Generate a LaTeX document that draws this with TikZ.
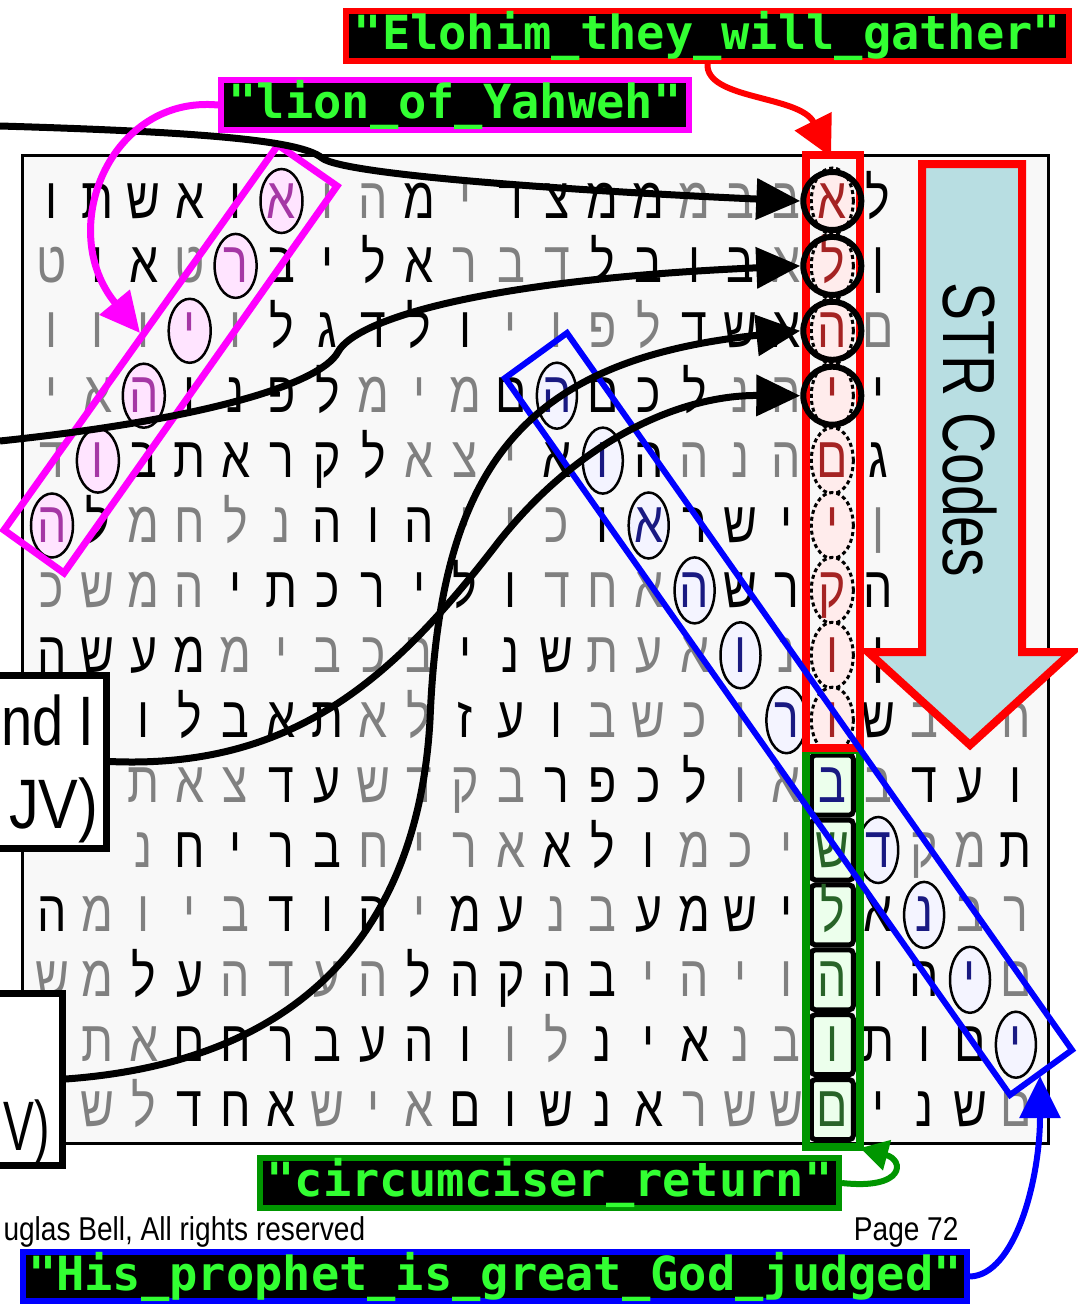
\documentclass[tikz,border=0pt]{standalone}
\usepackage{fontspec}
\setmainfont{Liberation Sans}
\newfontfamily\hebfont[Script=Hebrew]{Liberation Sans}
\newfontfamily\codefont{DejaVu Sans Mono}
\usetikzlibrary{arrows.meta}

\definecolor{gridbg}{RGB}{248,248,248}
\definecolor{tb}{RGB}{0,0,0}
\definecolor{tg}{RGB}{128,128,128}
\definecolor{tm}{RGB}{165,55,165}
\definecolor{tr}{RGB}{165,35,35}
\definecolor{tn}{RGB}{25,25,130}
\definecolor{te}{RGB}{40,100,40}
\definecolor{codegreen}{RGB}{50,255,50}
\definecolor{strblue}{RGB}{184,222,226}
\definecolor{darkgreen}{RGB}{0,150,0}
\definecolor{lionpink}{RGB}{255,0,255}
\definecolor{pinkglow}{RGB}{255,228,255}
\definecolor{redglow}{RGB}{255,236,236}
\definecolor{blueglow}{RGB}{244,244,255}
\definecolor{greenglow}{RGB}{236,255,236}

\tikzset{
  glyph/.style={font=\hebfont\fontsize{58}{58}\selectfont, inner sep=0pt, anchor=base},
  codebox/.style={fill=black, line width=6pt, inner sep=0pt,
    font=\codefont\bfseries\fontsize{47}{47}\selectfont, text=codegreen},
  sidebox/.style={draw, line width=7pt, fill=white, inner sep=0pt},
  blackarrow/.style={line width=7pt, -{Triangle[length=44pt,width=40pt]}}
}

% one row of the letter grid, entries letter/tone
\newcommand\hebrow[2]{%
  \foreach \ch/\tone [count=\col from 0] in {#2} {%
    \if x\tone\else
      \node[glyph, text=t\tone] (let-#1-\col) at ([yshift=-17pt]cell-#1-\col) {\scalebox{0.8}[1]{\ch}};
    \fi
  }%
}

\begin{document}
\begin{tikzpicture}[x=1pt, y=-1pt]
\useasboundingbox (0,0) rectangle (1078,1306);

\draw[line width=3pt, fill=gridbg] (22,155) rectangle (1048,1143);
\foreach \r in {0,...,14} {
  \foreach \c in {0,...,21} {
    \coordinate (cell-\r-\c) at ({52+45.9*\c},{201+64.9*\r});
  }
}

\foreach \r/\c in {0/5,1/4,2/3,3/2,4/1,5/0}
  \draw[fill=pinkglow, line width=2.5pt] (cell-\r-\c) ellipse [x radius=21pt, y radius=32pt];
\foreach \r/\c in {3/11,4/12,5/13,6/14,7/15,8/16,10/18,11/19,12/20,13/21}
  \draw[fill=blueglow, line width=2.5pt] (cell-\r-\c) ellipse [x radius=20pt, y radius=33pt];
\foreach \r in {0,...,8}
  \draw[fill=redglow, line width=3pt, dash pattern=on 4pt off 3pt] (cell-\r-17) ellipse [x radius=21pt, y radius=33pt];
\foreach \r in {9,...,14}
  \draw[fill=greenglow, line width=5pt, rounded corners=4pt] ([xshift=-21pt,yshift=30pt]cell-\r-17) rectangle ([xshift=21pt,yshift=-30pt]cell-\r-17);

\hebrow{0}{ו/b,ת/b,ש/b,א/b,ו/b,א/m,ו/g,ה/g,מ/b,י/g,ד/b,צ/b,מ/b,מ/b,מ/g,ב/g,ב/g,א/r,ל/b,-/x,-/x,-/x}
\hebrow{1}{ט/g,ו/b,א/b,ט/g,ר/m,ב/b,י/b,ל/b,א/b,ר/g,ב/g,ד/g,ל/b,ב/b,ו/b,ב/b,א/g,ל/r,ן/b,-/x,-/x,ן/b}
\hebrow{2}{ו/g,ו/g,ו/g,י/m,ו/g,ל/b,ג/b,ד/b,ל/b,ו/b,י/g,ו/g,פ/g,ל/g,ד/b,ש/b,א/b,ה/r,ם/g,-/x,-/x,ן/b}
\hebrow{3}{י/g,א/g,ה/m,ו/b,נ/b,פ/b,ל/b,מ/g,י/g,מ/g,ם/b,ה/n,ם/b,כ/b,ל/b,נ/g,ה/g,י/r,י/b,-/x,-/x,ו/b}
\hebrow{4}{ד/g,ו/m,ב/b,ת/b,א/b,ר/b,ק/b,ל/b,א/g,צ/g,י/g,א/b,ו/n,ה/b,ה/g,נ/g,ה/g,ם/r,ג/b,-/x,-/x,-/x}
\hebrow{5}{ה/m,ל/b,מ/g,ח/g,ל/g,נ/g,ה/b,ו/b,ה/b,י/g,י/g,כ/g,ו/b,א/n,ר/b,ש/b,י/b,י/r,ן/g,-/x,-/x,-/x}
\hebrow{6}{כ/g,ש/g,מ/g,ה/g,י/b,ת/b,כ/b,ר/b,י/b,ל/b,ו/b,ד/g,ח/g,א/g,ה/n,ש/b,ר/b,ק/r,ה/b,-/x,-/x,-/x}
\hebrow{7}{ה/b,ש/b,ע/b,מ/b,מ/g,י/g,ב/g,כ/g,ב/g,י/b,נ/b,ש/b,ת/g,ע/g,א/g,ו/n,נ/g,ו/r,ן/b,-/x,-/x,-/x}
\hebrow{8}{-/x,-/x,ו/b,ל/b,ב/b,א/b,ת/b,א/g,ל/g,ז/b,ע/b,ו/b,ב/g,ש/g,כ/g,ו/g,ר/n,ו/r,ש/b,ב/g,-/x,ה/g}
\hebrow{9}{-/x,-/x,ת/g,א/g,צ/g,ד/b,ע/b,ש/g,ד/g,ק/g,ב/g,ר/b,פ/b,כ/b,ל/b,ו/g,א/g,ב/n,ב/g,ד/b,ע/b,ו/b}
\hebrow{10}{-/x,-/x,נ/g,ח/b,י/b,ר/b,ב/b,ח/g,י/g,ר/g,א/g,א/b,ל/b,ו/b,מ/g,כ/g,י/g,ש/e,ד/n,ק/g,מ/g,ת/b}
\hebrow{11}{ה/b,מ/g,ו/g,י/g,ב/g,ד/b,ו/b,ה/b,י/g,מ/b,ע/b,נ/g,ב/g,ע/b,מ/b,ש/b,י/b,ל/e,א/b,נ/n,ב/g,ר/g}
\hebrow{12}{ש/g,מ/g,ל/b,ע/b,ה/g,ד/g,ע/g,ה/g,ל/b,ה/b,ק/b,ה/b,ב/b,י/g,ה/g,י/g,ו/g,ה/e,ו/b,ה/b,י/n,ם/g}
\hebrow{13}{-/x,ת/g,א/g,ם/b,ח/b,ר/b,ב/b,ע/b,ה/b,ו/b,ו/g,ל/g,נ/b,י/b,א/b,נ/g,ב/g,ו/e,ת/b,ו/b,ם/b,י/n}
\hebrow{14}{-/x,ש/g,ל/g,ד/b,ח/b,א/b,ש/g,י/g,א/g,ם/b,ו/b,ש/b,נ/b,א/b,ר/g,ש/g,ש/g,ם/e,י/b,נ/b,ש/b,ם/g}

\draw[darkgreen, line width=8pt] (805.5,750) rectangle (859.5,1147);
\draw[red, line width=8pt] (805.5,155) rectangle (859.5,748);
\foreach \r in {0,1,2,3}
  \node[draw, circle, line width=6pt, minimum size=58pt, inner sep=0pt] (ring\r) at (cell-\r-17) {};

\draw[lionpink, line width=7pt, line join=miter] (278,145) -- (337,186) -- (64,573) -- (4,530) -- cycle;
\draw[blue, line width=6pt, line join=miter] (505,378) -- (567,333) -- (1072,1050) -- (1010,1095) -- cycle;

\draw[red, line width=8pt, fill=strblue, line join=miter] (922,164) -- (1022,164) -- (1022,652) -- (1072,652)
  -- (970,745) -- (868,652) -- (922,652) -- cycle;
\node[rotate=-90] (strtext) at (970,430) {\scalebox{0.77}[1]{\fontsize{74}{74}\selectfont STR Codes}};

\node[sidebox, minimum width=112pt, minimum height=173pt] (kjv) at (50,761.5) {};
\node[anchor=base east] (kjvtop) at (98,745) {\scalebox{0.8}[1]{\fontsize{70}{70}\selectfont nd I}};
\node[anchor=base east] (kjvbot) at (102,828) {\scalebox{0.85}[1]{\fontsize{70}{70}\selectfont JV)}};
\node[sidebox, minimum width=70pt, minimum height=172pt] (nkjv) at (27,1079) {};
\node[anchor=base east] (nkjvbot) at (53,1150) {\scalebox{0.66}[1]{\fontsize{70}{70}\selectfont V)}};

\node[codebox, draw=red, minimum width=723pt, minimum height=45pt] (elohim) at (707.5,36) {"Elohim\_they\_will\_gather"};
\node[codebox, draw=lionpink, minimum width=468pt, minimum height=43pt] (lion) at (455,105) {"lion\_of\_Yahweh"};
\node[codebox, draw=darkgreen, minimum width=579pt, minimum height=44pt] (circ) at (549.5,1183) {"circumciser\_return"};
\node[codebox, draw=blue, minimum width=944pt, minimum height=44pt] (prophet) at (495,1276.5) {"His\_prophet\_is\_great\_God\_judged"};

\coordinate (in1) at (0,126);
\coordinate (in2) at (0,441);
\coordinate (liontip) at (140,333);
\coordinate (redtop) at (831,157);
\coordinate (greentip) at (860,1148);
\coordinate (bluetip) at (1040,1076);

\draw[blackarrow] (in1) .. controls (200,132) and (300,140) .. (322,158) .. controls (345,176) and (600,192) .. (ring0.west);
\draw[blackarrow] (in2) .. controls (200,420) and (320,385) .. (338,352) .. controls (355,320) and (480,280) .. (ring1.west);
\draw[blackarrow] (nkjv.east) .. controls (330,1060) and (420,900) .. (430,720) .. controls (440,470) and (520,360) .. (ring2.west);
\draw[blackarrow] (kjv.east) .. controls (300,770) and (400,670) .. (500,540) .. controls (580,440) and (680,395) .. (ring3.west);

\draw[lionpink, line width=7pt, -{Triangle[length=40pt,width=38pt]}] (lion.west) .. controls (110,95) and (55,230) .. (liontip);
\draw[red, line width=6pt, -{Triangle[length=40pt,width=40pt]}] (elohim.south) .. controls (705,100) and (800,95) .. (redtop);
\draw[darkgreen, line width=6pt, -{Triangle[length=28pt,width=30pt]}] (circ.east) .. controls (905,1190) and (905,1160) .. (greentip);
\draw[blue, line width=6pt, -{Triangle[length=42pt,width=40pt]}] (prophet.east) .. controls (1015,1275) and (1040,1180) .. (bluetip);

\node[anchor=base west] (rights) at (0,1240) {\scalebox{0.85}[1]{\fontsize{33}{33}\selectfont uglas Bell, All rights reserved}};
\node[anchor=base east] (pagenum) at (962,1240) {\scalebox{0.85}[1]{\fontsize{33}{33}\selectfont Page 72}};
\end{tikzpicture}
\end{document}
